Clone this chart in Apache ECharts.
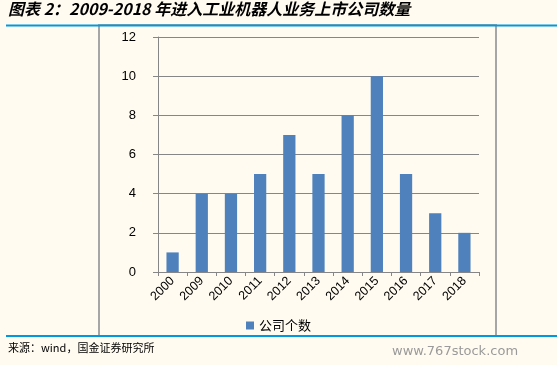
<!DOCTYPE html>
<html><head><meta charset="utf-8">
<script src="https://cdn.jsdelivr.net/npm/echarts@6/dist/echarts.min.js"></script>
<style>html,body{margin:0;padding:0;background:#fffbf0;}#c{width:557px;height:365px;}</style>
</head><body><div id="c"></div>
<script>
var categories = ['2000','2009','2010','2011','2012','2013','2014','2015','2016','2017','2018'];
var values = [1,4,4,5,7,5,8,10,5,3,2];
var yTicks = [0,2,4,6,8,10,12];
var seriesName = '公司个数';
var titleText = '图表 2：2009-2018 年进入工业机器人业务上市公司数量';
var sourceText = '来源：wind，国金证券研究所';
var watermark = 'www.767stock.com';

var chart = echarts.init(document.getElementById('c'), null, {renderer:'canvas'});
chart.setOption({
  backgroundColor: '#fffbf0',
  animation: false,
  graphic: [
    {type:'rect', shape:{x:99,y:25,width:397,height:311}, style:{fill:'none',stroke:'#a6a6a6',lineWidth:2}, z:1},
    {type:'line', shape:{x1:6,y1:25.5,x2:557,y2:25.5}, style:{stroke:'#0099dd',lineWidth:2}, z:2},
    {type:'line', shape:{x1:6,y1:336,x2:557,y2:336}, style:{stroke:'#0099dd',lineWidth:2}, z:2},
    {type:'text', left:8, top:1, style:{text:titleText, font:'italic bold 16px "Noto Sans CJK SC", sans-serif', fill:'#000'}},
    {type:'text', left:8, top:342, style:{text:sourceText, font:'11px "Noto Sans CJK SC", sans-serif', fill:'#000'}},
    {type:'text', left:392, top:345, style:{text:watermark, font:'13px "DejaVu Sans", sans-serif', fill:'#9a9a9a'}}
  ],
  grid: {left:158, right:78, top:37, bottom:93, containLabel:false},
  legend: {
    data:[seriesName], bottom:28, left:'center', itemWidth:8, itemHeight:8, itemGap:4,
    icon:'rect',
    textStyle:{fontSize:13, color:'#000', fontFamily:'"Noto Sans CJK SC", sans-serif'}
  },
  xAxis: {
    type:'category', data:categories,
    axisLine:{show:true, lineStyle:{color:'#868686', width:1}},
    axisTick:{show:true, length:4, lineStyle:{color:'#868686'}},
    axisLabel:{rotate:45, fontSize:12.5, color:'#000', fontFamily:'Liberation Sans, Arial, sans-serif', margin:7}
  },
  yAxis: {
    type:'value', min:0, max:12, interval:2,
    axisLine:{show:true, lineStyle:{color:'#868686', width:1}},
    axisTick:{show:true, length:5, lineStyle:{color:'#868686'}},
    splitLine:{show:true, lineStyle:{color:'#868686', width:1}},
    axisLabel:{fontSize:13, color:'#000', fontFamily:'Liberation Sans, Arial, sans-serif', margin:22,
      formatter:function(v){return yTicks.indexOf(v)>=0 ? String(v) : '';}}
  },
  series: [{
    name:seriesName, type:'bar', data:values, barWidth:'42%',
    itemStyle:{color:'#4f81bd'}
  }]
});
</script></body></html>
